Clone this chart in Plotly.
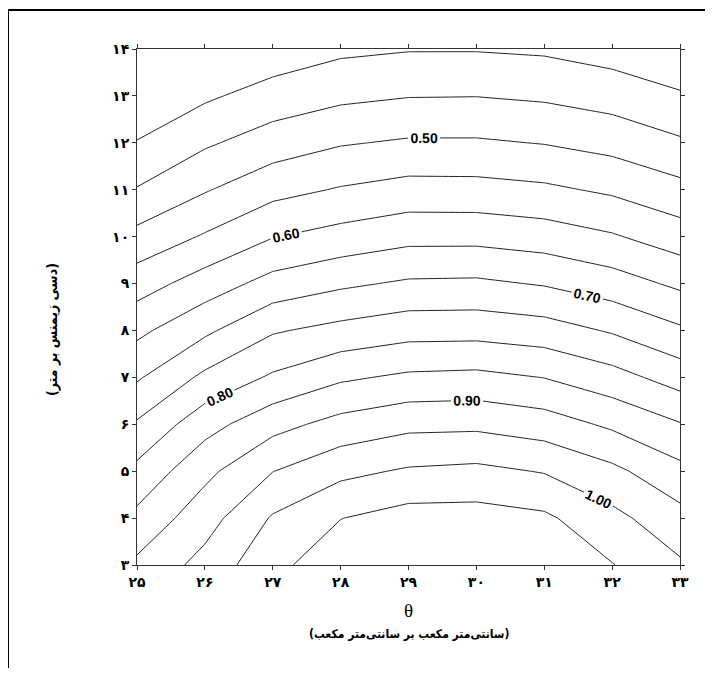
import plotly.graph_objects as go

# ---- data ----
x_vals = [25, 26, 27, 28, 29, 30, 31, 32, 33]
y_vals = [3, 4, 5, 6, 7, 8, 9, 10, 11, 12, 13, 14]

# z rows follow y_vals (bottom to top), columns follow x_vals
z_y03 = [0.910, 0.967, 1.037, 1.080, 1.090, 1.090, 1.080, 1.052, 1.007]
z_y04 = [0.863, 0.929, 1.005, 1.049, 1.070, 1.070, 1.059, 1.014, 0.967]
z_y05 = [0.813, 0.887, 0.949, 0.987, 1.006, 1.012, 0.997, 0.962, 0.914]
z_y06 = [0.756, 0.831, 0.883, 0.917, 0.937, 0.939, 0.924, 0.891, 0.853]
z_y07 = [0.694, 0.761, 0.807, 0.842, 0.859, 0.863, 0.849, 0.819, 0.778]
z_y08 = [0.638, 0.690, 0.745, 0.765, 0.781, 0.782, 0.772, 0.745, 0.708]
z_y09 = [0.577, 0.623, 0.668, 0.691, 0.707, 0.709, 0.696, 0.673, 0.640]
z_y10 = [0.515, 0.555, 0.598, 0.618, 0.635, 0.635, 0.625, 0.605, 0.574]
z_y11 = [0.453, 0.496, 0.534, 0.554, 0.568, 0.567, 0.559, 0.542, 0.515]
z_y12 = [0.403, 0.443, 0.474, 0.496, 0.506, 0.506, 0.498, 0.483, 0.457]
z_y13 = [0.353, 0.392, 0.421, 0.439, 0.448, 0.449, 0.4425, 0.4285, 0.406]
z_y14 = [0.303, 0.341, 0.369, 0.390, 0.397, 0.397, 0.3925, 0.3785, 0.3565]

x_tick_labels = ["۲۵", "۲۶", "۲۷", "۲۸", "۲۹", "۳۰", "۳۱", "۳۲", "۳۳"]
y_tick_labels = ["۳", "۴", "۵", "۶", "۷", "۸", "۹", "۱۰", "۱۱", "۱۲", "۱۳", "۱۴"]

labelled_levels = dict(start=0.50, end=1.00, size=0.10)
unlabelled_levels = dict(start=0.45, end=1.05, size=0.10)
top_level = dict(start=0.40, end=0.40, size=0.05)

x_title_symbol = "θ"
x_title_units = "(سانتی\u200cمتر مکعب بر سانتی\u200cمتر مکعب)"
y_title = "(دسی زیمنس بر متر)"

z = [z_y03, z_y04, z_y05, z_y06, z_y07, z_y08, z_y09, z_y10, z_y11, z_y12, z_y13, z_y14]

line_style = dict(color="#222222", width=1, smoothing=0)
label_font = dict(family="Liberation Sans", size=14, color="black", weight="bold")

fig = go.Figure()
fig.add_trace(go.Contour(
    x=x_vals, y=y_vals, z=z,
    contours=dict(coloring="none", showlabels=False, **unlabelled_levels),
    line=line_style, showscale=False, hoverinfo="skip",
))
fig.add_trace(go.Contour(
    x=x_vals, y=y_vals, z=z,
    contours=dict(coloring="none", showlabels=False, **top_level),
    line=line_style, showscale=False, hoverinfo="skip",
))
fig.add_trace(go.Contour(
    x=x_vals, y=y_vals, z=z,
    contours=dict(coloring="none", showlabels=True, labelformat=".2f",
                  labelfont=label_font, **labelled_levels),
    line=line_style, showscale=False, hoverinfo="skip",
))

tick_font = dict(family="DejaVu Sans", size=14, color="black", weight="bold")
axis_common = dict(showgrid=False, zeroline=False, showline=True, linecolor="#333",
                   linewidth=1, mirror="ticks", ticks="outside", ticklen=4,
                   tickcolor="#333", tickfont=tick_font)

# page body has an 8px margin: figure origin sits at (8, 8) in the window
OX, OY = 8, 8
PL, PR, PT, PB = 137, 680, 49, 565   # plot area in window pixels
FIG_W, FIG_H = 705, 660

fig.update_layout(
    width=FIG_W, height=FIG_H, autosize=False,
    margin=dict(l=PL - OX, r=FIG_W - (PR - OX), t=PT - OY, b=FIG_H - (PB - OY)),
    paper_bgcolor="white", plot_bgcolor="white",
    showlegend=False,
    xaxis=dict(range=[25, 33], tickvals=x_vals, ticktext=x_tick_labels, **axis_common),
    yaxis=dict(range=[3, 14], tickvals=y_vals, ticktext=y_tick_labels, **axis_common),
)

W, H = float(PR - PL), float(PB - PT)
def px_to_paper_x(px):
    return (px - PL) / W
def px_to_paper_y(py):
    return (PB - py) / H

fig.add_annotation(text=x_title_symbol, xref="paper", yref="paper",
                   x=0.5, y=px_to_paper_y(610), showarrow=False,
                   xanchor="center", yanchor="middle",
                   font=dict(family="Liberation Serif", size=19, color="black"))
fig.add_annotation(text=x_title_units, xref="paper", yref="paper",
                   x=0.5, y=px_to_paper_y(634), showarrow=False,
                   xanchor="center", yanchor="middle",
                   font=dict(family="DejaVu Sans Condensed, DejaVu Sans", size=12,
                             color="black", weight="bold"))
fig.add_annotation(text=y_title, xref="paper", yref="paper",
                   x=px_to_paper_x(52), y=px_to_paper_y(330), showarrow=False,
                   xanchor="center", yanchor="middle", textangle=-90,
                   font=dict(family="DejaVu Sans Condensed, DejaVu Sans", size=14,
                             color="black", weight="bold"))

# outer frame (top and left edges visible in the reference)
fig.add_shape(type="line", xref="paper", yref="paper",
              x0=px_to_paper_x(8), x1=px_to_paper_x(740),
              y0=px_to_paper_y(10), y1=px_to_paper_y(10),
              line=dict(color="black", width=2))
fig.add_shape(type="line", xref="paper", yref="paper",
              x0=px_to_paper_x(8), x1=px_to_paper_x(8),
              y0=px_to_paper_y(10), y1=px_to_paper_y(700),
              line=dict(color="black", width=2))

fig.write_html("out.html")
